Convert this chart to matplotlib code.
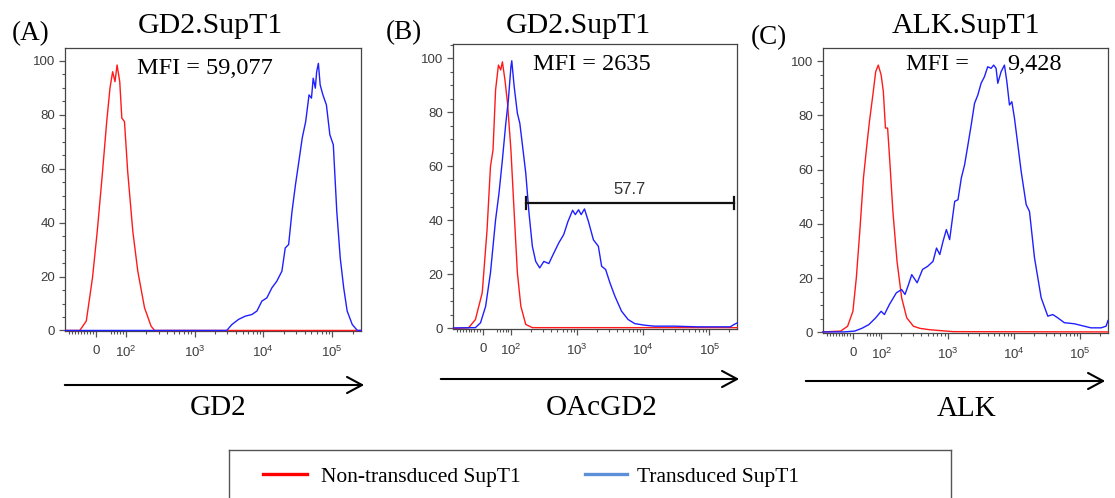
import matplotlib
matplotlib.use("Agg")
import matplotlib.pyplot as plt
from matplotlib.patches import FancyArrowPatch
from matplotlib.lines import Line2D
from matplotlib.ticker import FixedLocator, MultipleLocator

plt.rcParams['mathtext.fontset'] = 'custom'
plt.rcParams['mathtext.rm'] = 'Liberation Sans'
plt.rcParams['mathtext.it'] = 'Liberation Sans:italic'
plt.rcParams['mathtext.bf'] = 'Liberation Sans:bold'

# ---------------- data (fluorescence value, % of max) ----------------
panel_letters = ["(A)", "(B)", "(C)"]
panel_titles = ["GD2.SupT1", "GD2.SupT1", "ALK.SupT1"]
axis_labels = ["GD2", "OAcGD2", "ALK"]
legend_labels = ["Non-transduced SupT1", "Transduced SupT1"]

A_red_x = [-103, -55, -33, -12, 4, 20, 36, 47, 56, 64, 71, 80, 87, 96, 107, 127, 150, 188, 234, 263, 262144]
A_red_y = [0, 0, 3.5, 19.6, 36.8, 56.5, 77.5, 89.9, 96, 92.3, 98.5, 92.3, 78.8, 77.5, 59, 36.8, 22, 8.4, 1.6, 0, 0]
A_blue_x = [-103, 2940, 3490, 4360, 5450, 6800, 8060, 9530, 11250, 13300, 15700, 18600, 20800, 23300,
            26100, 29300, 32800, 36700, 41200, 46100, 50000, 53000, 56900, 59500, 63000, 66900, 73300,
            82400, 92500, 103800, 110000, 116600, 130900, 147000, 165000, 195800, 232000, 262144]
A_blue_y = [0, 0, 2.2, 4.1, 5.3, 5.9, 7.2, 10.9, 12.1, 15.8, 18.3, 22, 30.6, 31.9, 44.2, 54.1, 62.7,
            71.4, 77.5, 87.4, 86.2, 93.6, 89.9, 96, 99.1, 91.1, 87.4, 83.7, 72.6, 68.9, 56.6, 44.2,
            26.9, 15.8, 7.2, 2.2, 0, 0]

B_red_x = [-103, -50, -26, -2, 15, 27, 36, 45, 55, 63, 69, 78, 87, 99, 111, 124, 140, 166, 209, 262144]
B_red_y = [0, 0.25, 3.3, 13.2, 36.5, 59.9, 66, 88.2, 97.4, 95.6, 98.6, 91.9, 83.3, 66, 42.7, 20.6, 8.2, 1.5, 0.3, 0.3]
B_blue_x = [-103, -97, -26, -8, 10, 27, 45, 57, 69, 81, 90, 99, 102, 111, 124, 135, 151, 166, 186, 209,
            235, 270, 312, 371, 442, 524, 623, 724, 851, 934, 1046, 1146, 1286, 1475, 1756, 2086, 2340,
            2690, 3120, 3720, 4680, 5890, 7400, 10500, 14700, 29500, 65800, 207000, 238000, 262144]
B_blue_y = [0.2, 0.2, 0.3, 2.1, 8.2, 20.6, 40.2, 50, 62.4, 75.9, 84.5, 96.8, 99, 89.4, 79.6, 75.9, 66,
            57.5, 42.7, 30.4, 24.8, 22.4, 24.8, 24, 27.9, 31.6, 34.7, 39.6, 43.7, 42.1, 43.9, 42.1, 44.2,
            39.6, 32.8, 30.4, 23, 21.8, 16.9, 11.9, 6.4, 3.3, 1.8, 1.2, 0.85, 0.85, 0.6, 0.6, 1.5, 2.0]
B_gate_x = [166, 240000]
B_gate_y = 46.4
B_gate_label = "57.7"

C_red_x = [-105, -43, -18.5, 0, 12, 25, 37, 49, 58, 70, 80, 89, 99, 107, 115, 124, 132, 149, 172, 202,
           241, 304, 382, 537, 758, 1200, 262144]
C_red_y = [0.2, 0.5, 2.3, 7.8, 20.1, 38.5, 56.9, 69.1, 77.7, 87.5, 96.1, 98.5, 94.9, 88.7, 75.3, 75.3,
           65.4, 44.6, 26.2, 12.8, 5.4, 2.3, 1.5, 1.0, 0.7, 0.3, 0.2]
C_blue_x = [-105, -31, 6, 31, 56, 80, 99, 111, 132, 168, 202, 227, 256, 287, 346, 417, 500, 601, 678, 760,
            851, 955, 1070, 1275, 1430, 1605, 1800, 2020, 2265, 2540, 2850, 3190, 3580, 4020, 4510, 4940,
            5370, 5700, 6400, 7180, 7810, 8550, 9290, 10180, 11440, 12840, 15280, 17140, 20400, 25700,
            32400, 38500, 45700, 57500, 81400, 115000, 145000, 206000, 245000, 262144]
C_blue_y = [0.2, 0.2, 0.5, 1.5, 2.9, 5.4, 7.8, 6.6, 10.3, 14.6, 15.8, 14, 17.6, 21.3, 18.3, 23.2, 24.4,
            26.2, 31.1, 28.7, 33.6, 37.9, 34.2, 48.3, 48.9, 56.9, 61.8, 69.1, 76.5, 84.4, 87.5, 91.8,
            94.2, 97.9, 97.3, 98.5, 97.3, 91.8, 96.1, 98.5, 92.4, 83.8, 85, 78.9, 69.1, 59.3, 47.1,
            44.6, 27.5, 12.8, 6.0, 6.6, 5.4, 3.6, 3.2, 2.3, 1.7, 1.7, 2.3, 4.4]

mfi_prefix = ["MFI = 59,077", "MFI = 2635", "MFI ="]
mfi_extra = ["", "", "9,428"]

x_major = [0, 100, 1000, 10000, 100000]
x_major_labels = ["0", r"$10^{2}$", r"$10^{3}$", r"$10^{4}$", r"$10^{5}$"]
x_minor = ([-90, -80, -70, -60, -50, -40, -30, -20, -10, 50, 60, 70, 80, 90]
           + [m * 10 ** e for e in (2, 3, 4) for m in range(2, 10)] + [200000])
y_major = [0, 20, 40, 60, 80, 100]

# ---------------- layout ----------------
W, H = 1115, 498
fig = plt.figure(figsize=(W / 100, H / 100), dpi=100)

def fxy(px, py):
    return px / W, 1 - py / H

serif = "Liberation Serif"
sans = "Liberation Sans"
RED = "#ff1a1a"
BLUE = "#1f1fff"
TICKC = "#555555"

boxes = [(65, 361, 48, 331), (453, 737, 44, 329), (823, 1108, 48, 333)]
ytops = [104.8, 105.2, 104.8]
reds = [(A_red_x, A_red_y), (B_red_x, B_red_y), (C_red_x, C_red_y)]
blues = [(A_blue_x, A_blue_y), (B_blue_x, B_blue_y), (C_blue_x, C_blue_y)]
letter_pos = [(31, 40), (404, 39), (769, 44)]
title_pos = [(210, 33), (578, 33), (966, 33)]
mfi_pos = [(205, 74), (592, 70), (937, 70)]
arrows = [(62, 367, 385), (438, 742, 379), (803, 1108, 381)]
label_pos = [(218, 415), (602, 415), (967, 416)]

for i in range(3):
    l, r, t, b = boxes[i]
    x0, y0 = fxy(l, b)
    ax = fig.add_axes([x0, y0, (r - l) / W, (b - t) / H])
    ax.set_xscale('symlog', linthresh=100, linscale=0.387)
    ax.set_xlim(-105, 262144)
    ax.set_ylim(-0.2, ytops[i])
    ax.plot(reds[i][0], reds[i][1], color=RED, lw=1.0, zorder=3, clip_on=False)
    ax.plot(blues[i][0], blues[i][1], color=BLUE, lw=1.0, zorder=3.1, clip_on=False)

    ax.xaxis.set_major_locator(FixedLocator(x_major))
    ax.set_xticklabels(x_major_labels)
    ax.xaxis.set_minor_locator(FixedLocator(x_minor))
    ax.yaxis.set_major_locator(FixedLocator(y_major))
    ax.yaxis.set_minor_locator(MultipleLocator(5))
    ax.tick_params(axis='both', which='major', direction='out', length=4, width=0.9,
                   color=TICKC, labelcolor="#3c3c3c", labelsize=9.5)
    ax.tick_params(axis='both', which='minor', direction='out', length=2.2, width=0.8, color=TICKC)
    ax.tick_params(axis='x', which='major', pad=6)
    ax.tick_params(axis='y', which='major', pad=3)
    for lab in ax.get_xticklabels() + ax.get_yticklabels():
        lab.set_family(sans)
    for sp in ax.spines.values():
        sp.set_color("#444444")
        sp.set_linewidth(0.9)

    if i == 1:
        ax.plot(B_gate_x, [B_gate_y, B_gate_y], color="#111111", lw=1.6, zorder=4)
        for gx in B_gate_x:
            ax.plot([gx, gx], [B_gate_y - 2.2, B_gate_y + 2.2], color="#111111", lw=1.6, zorder=4)
        ax.text(6240, 51.3, B_gate_label, family=sans, fontsize=12, color="#333333",
                ha='center', va='center')

    fig.text(*fxy(*letter_pos[i]), panel_letters[i], family=serif, fontsize=19.5,
             ha='center', va='baseline')
    fig.text(*fxy(*title_pos[i]), panel_titles[i], family=serif, fontsize=21.5,
             ha='center', va='baseline')
    fig.text(*fxy(*mfi_pos[i]), mfi_prefix[i], family=serif, fontsize=17.5,
             ha='center', va='baseline')
    if mfi_extra[i]:
        fig.text(*fxy(1035, 70), mfi_extra[i], family=serif, fontsize=17.5,
                 ha='center', va='baseline')

    ax1, ay = arrows[i][0], arrows[i][2]
    bx1 = arrows[i][1]
    arr = FancyArrowPatch(fxy(ax1, ay), fxy(bx1, ay), transform=fig.transFigure,
                          arrowstyle='->,head_length=0.54,head_width=0.29',
                          mutation_scale=20, lw=1.5, color='black')
    fig.add_artist(arr)
    fig.text(*fxy(*label_pos[i]), axis_labels[i], family=serif, fontsize=21,
             ha='center', va='baseline')

# ---------------- legend ----------------
lx0, lx1, ly0 = 229, 951, 450
for (xa, ya, xb, yb) in [(lx0, ly0, lx1, ly0), (lx0, ly0, lx0, 510), (lx1, ly0, lx1, 510)]:
    p1 = fxy(xa, ya)
    p2 = fxy(xb, yb)
    fig.add_artist(Line2D([p1[0], p2[0]], [p1[1], p2[1]], transform=fig.transFigure,
                          color="#555555", lw=1.0))
p1, p2 = fxy(263, 474), fxy(307, 474)
fig.add_artist(Line2D([p1[0], p2[0]], [p1[1], p2[1]], transform=fig.transFigure, color="#ff0000", lw=2.4))
fig.text(*fxy(321, 482), legend_labels[0], family=serif, fontsize=15.5, ha='left', va='baseline')
p1, p2 = fxy(585, 474), fxy(627, 474)
fig.add_artist(Line2D([p1[0], p2[0]], [p1[1], p2[1]], transform=fig.transFigure, color="#5b8fd8", lw=2.4))
fig.text(*fxy(637, 482), legend_labels[1], family=serif, fontsize=15.5, ha='left', va='baseline')

fig.savefig("out.png", dpi=100)
